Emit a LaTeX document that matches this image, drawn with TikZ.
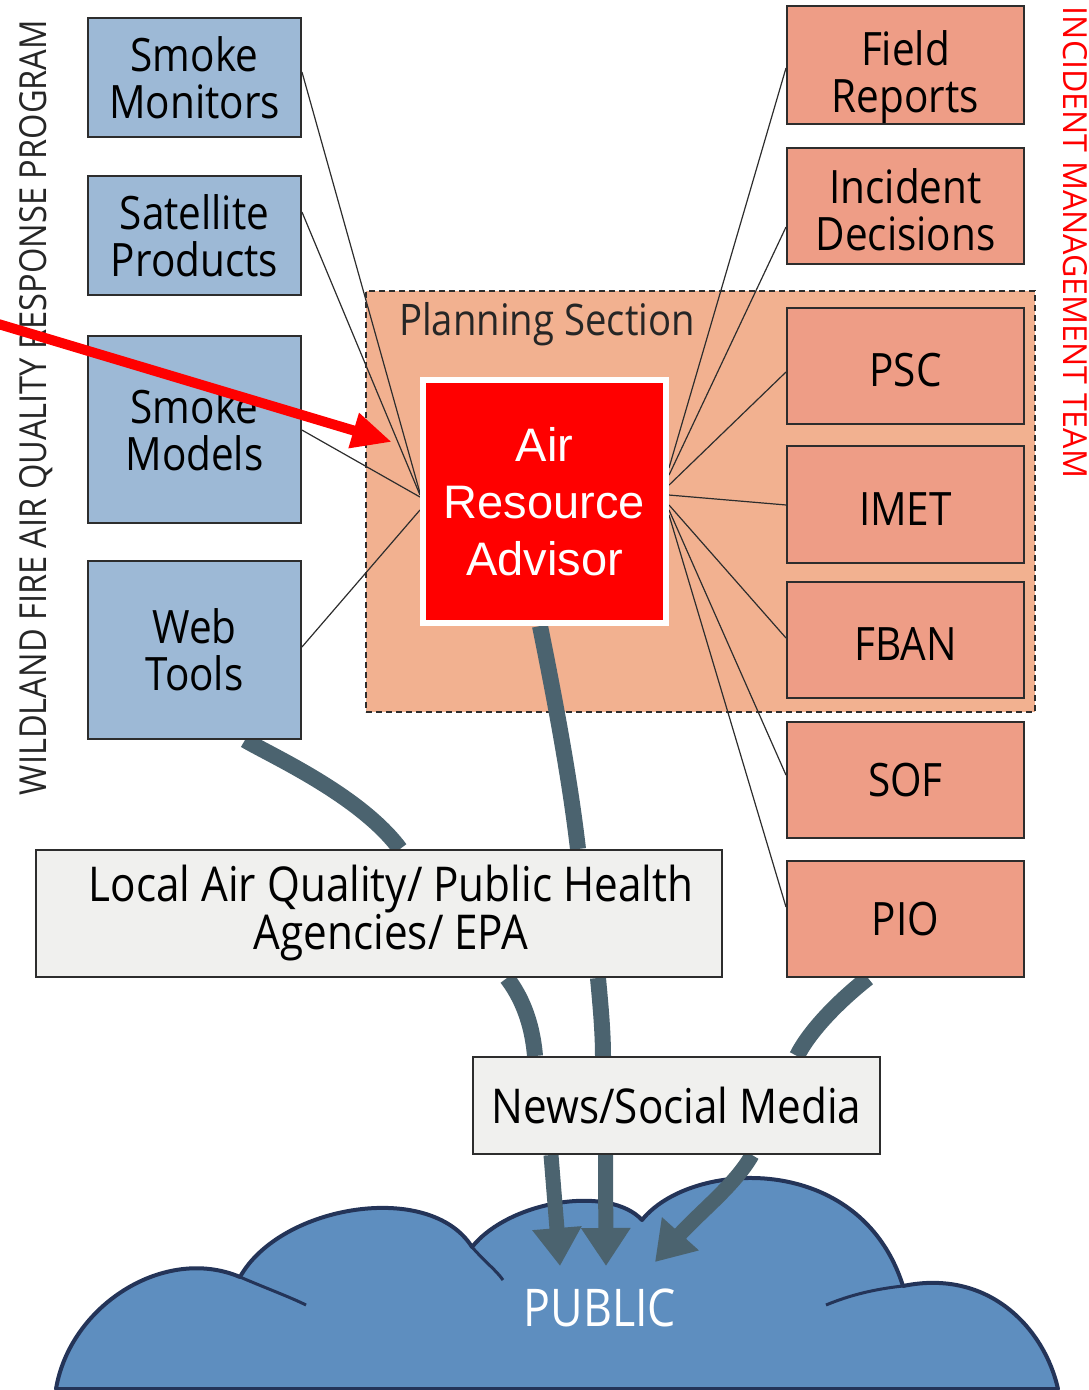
\documentclass[tikz,border=0pt]{standalone}
\usepackage{fontspec}
\usepackage{graphicx}
\setmainfont{Open Sans}[FakeStretch=0.88]
\newfontfamily\arafont{Liberation Sans}
\newfontfamily\pubfont{Open Sans}[FakeStretch=0.86]
\usetikzlibrary{arrows.meta,calc}
\definecolor{boxblue}{RGB}{157,185,214}
\definecolor{salmon}{RGB}{238,157,134}
\definecolor{planfill}{RGB}{242,177,144}
\definecolor{lightbox}{RGB}{240,240,238}
\definecolor{flowcol}{RGB}{75,99,111}
\definecolor{cloudfill}{RGB}{94,142,191}
\definecolor{cloudedge}{RGB}{36,52,88}
\definecolor{edgegray}{RGB}{45,45,45}
\newcommand{\topstrut}[1]{\rule{0pt}{#1}}
\pgfdeclarelayer{back}
\pgfdeclarelayer{flows}
\pgfsetlayers{back,flows,main}
\begin{document}
\begin{tikzpicture}[x=1pt,y=-1pt,
  bluebox/.style={draw=edgegray,line width=2pt,fill=boxblue,minimum width=213pt,align=center,inner sep=0pt,font=\fontsize{46}{47}\selectfont},
  salbox/.style={draw=edgegray,line width=2pt,fill=salmon,minimum width=237pt,align=center,inner sep=0pt,font=\fontsize{46}{47}\selectfont},
  graybox/.style={draw=edgegray,line width=2pt,fill=lightbox,align=center,inner sep=0pt},
  planbox/.style={draw=edgegray,line width=1.6pt,dash pattern=on 6pt off 4pt,fill=planfill},
  thinlink/.style={draw=edgegray,line width=1.2pt},
  flow/.style={draw=flowcol,line width=16pt},
  pubarrow/.style={draw=flowcol,line width=15pt,-{Triangle[length=38pt,width=47pt]}},
  cloudline/.style={draw=cloudedge,line width=4pt},
]
\useasboundingbox (0,0) rectangle (1089,1390);

% ---------- background: cloud and planning section
\begin{pgfonlayer}{back}
\draw[cloudline,fill=cloudfill,line join=round] (56,1389) .. controls (70,1305) and (165,1245) .. (240,1277)
  .. controls (280,1205) and (430,1180) .. (472,1247)
  .. controls (510,1200) and (610,1185) .. (642,1220)
  .. controls (690,1160) and (860,1150) .. (903,1286)
  .. controls (990,1268) and (1045,1330) .. (1058,1389) -- cycle;
\draw[cloudline,line width=3pt] (240,1277) .. controls (268,1289) and (290,1297) .. (306,1305);
\draw[cloudline,line width=3pt] (472,1247) .. controls (485,1262) and (496,1270) .. (503,1280);
\draw[cloudline,line width=3pt] (826,1305) .. controls (850,1295) and (875,1289) .. (903,1286);
\node[planbox,minimum width=669pt,minimum height=421pt] (plan) at (700.5,501.5) {};
\end{pgfonlayer}

\node[text=white,font=\pubfont\fontsize{52}{52}\selectfont] (public) at (600,1308) {PUBLIC};
\node[font=\fontsize{43.5}{43.5}\selectfont,anchor=base west,inner sep=0pt,text=black!85] (plantitle) at (399,335) {Planning Section};

% ---------- left boxes
\node[bluebox,minimum height=119pt] (sm) at (194.5,77.5) {Smoke\\Monitors};
\node[bluebox,minimum height=119pt] (sp) at (194.5,235.5) {Satellite\\Products};
\node[bluebox,minimum height=187pt] (smod) at (194.5,429.5) {Smoke\\Models};
\node[bluebox,minimum height=178pt] (wt) at (194.5,650) {Web\\Tools};

% ---------- right boxes
\node[salbox,minimum height=118pt] (fr) at (905.5,65) {\topstrut{59pt}Field\\Reports};
\node[salbox,minimum height=116pt] (id) at (905.5,206) {\topstrut{43pt}Incident\\Decisions};
\node[salbox,minimum height=116pt] (psc) at (905.5,366) {\topstrut{41pt}PSC};
\node[salbox,minimum height=117pt] (imet) at (905.5,504.5) {\topstrut{41pt}IMET};
\node[salbox,minimum height=116pt] (fban) at (905.5,640) {\topstrut{41pt}FBAN};
\node[salbox,minimum height=116pt] (sof) at (905.5,780) {SOF};
\node[salbox,minimum height=116pt] (pio) at (905.5,919) {PIO};

% ---------- central and lower boxes
\node[draw=white,line width=6pt,fill=red,minimum size=243pt,text=white,align=center,inner sep=0pt,font=\arafont\fontsize{47}{57}\selectfont] (ara) at (544.5,501.5) {Air\\Resource\\Advisor};
\node[graybox,minimum width=686pt,minimum height=127pt,font=\fontsize{48}{48}\selectfont] (local) at (379,913.5) {\hspace*{24pt}Local Air Quality/ Public Health\\\hspace*{24pt}Agencies/ EPA};
\node[graybox,minimum width=407pt,minimum height=97pt,font=\fontsize{48}{48}\selectfont] (news) at (676.5,1105.5) {News/Social Media};

% ---------- connectors (layer under the boxes)
\coordinate (t1) at (560,1266);
\coordinate (t2) at (606,1266);
\coordinate (t3) at (655,1262);
\begin{pgfonlayer}{flows}
\draw[flow] ([xshift=50.5pt]wt.south) .. controls (270,755) and (360,795) .. ([xshift=21pt]local.north);
\draw[flow] ([xshift=-4.5pt]ara.south) .. controls (555,700) and (570,780) .. ([xshift=199pt]local.north);
\draw[flow] ([xshift=128pt]local.south) .. controls (520,995) and (532,1020) .. ([xshift=-141.5pt]news.north);
\draw[flow] ([xshift=219pt]local.south) .. controls (600,1000) and (603,1030) .. ([xshift=-73.5pt]news.north);
\draw[flow] ([xshift=-37.5pt]pio.south) .. controls (840,1000) and (810,1030) .. ([xshift=120.5pt]news.north);
\draw[pubarrow] ([xshift=-125.5pt]news.south) -- (t1);
\draw[pubarrow] ([xshift=-71pt]news.south) -- (t2);
\draw[pubarrow] ([xshift=75.5pt]news.south) .. controls (735,1185) and (700,1212) .. (t3);

\draw[thinlink] ($(sm.north east)!0.455!(sm.south east)$) -- ($(ara.north west)!0.466!(ara.south west)$);
\draw[thinlink] ($(sp.north east)!0.306!(sp.south east)$) -- ($(ara.north west)!0.474!(ara.south west)$);
\draw[thinlink] ($(smod.north east)!0.503!(smod.south east)$) -- ($(ara.north west)!0.482!(ara.south west)$);
\draw[thinlink] ($(wt.north east)!0.483!(wt.south east)$) -- ($(ara.north west)!0.534!(ara.south west)$);
\draw[thinlink] ($(fr.north west)!0.525!(fr.south west)$) -- ($(ara.north east)!0.365!(ara.south east)$);
\draw[thinlink] ($(id.north west)!0.678!(id.south west)$) -- ($(ara.north east)!0.394!(ara.south east)$);
\draw[thinlink] ($(psc.north west)!0.551!(psc.south west)$) -- ($(ara.north east)!0.434!(ara.south east)$);
\draw[thinlink] ($(imet.north west)!0.504!(imet.south west)$) -- ($(ara.north east)!0.474!(ara.south east)$);
\draw[thinlink] ($(fban.north west)!0.483!(fban.south west)$) -- ($(ara.north east)!0.514!(ara.south east)$);
\draw[thinlink] ($(sof.north west)!0.458!(sof.south west)$) -- ($(ara.north east)!0.534!(ara.south east)$);
\draw[thinlink] ($(pio.north west)!0.398!(pio.south west)$) -- ($(ara.north east)!0.554!(ara.south east)$);
\end{pgfonlayer}

% ---------- side labels
\node[rotate=90,text=black!85,inner sep=0pt] (leftlabel) at (36.5,407.5) {\resizebox{775pt}{27pt}{WILDLAND FIRE AIR QUALITY RESPONSE PROGRAM}};
\node[rotate=-90,text=red,inner sep=0pt] (rightlabel) at (1075,242.5) {\resizebox{471pt}{24pt}{INCIDENT MANAGEMENT TEAM}};

% ---------- red pointer
\coordinate (redstart) at (-5,323);
\coordinate (redtip) at (392,442);
\draw[red,line width=10pt,-{Triangle[length=40pt,width=34pt]}] (redstart) -- (redtip);
\end{tikzpicture}
\end{document}
